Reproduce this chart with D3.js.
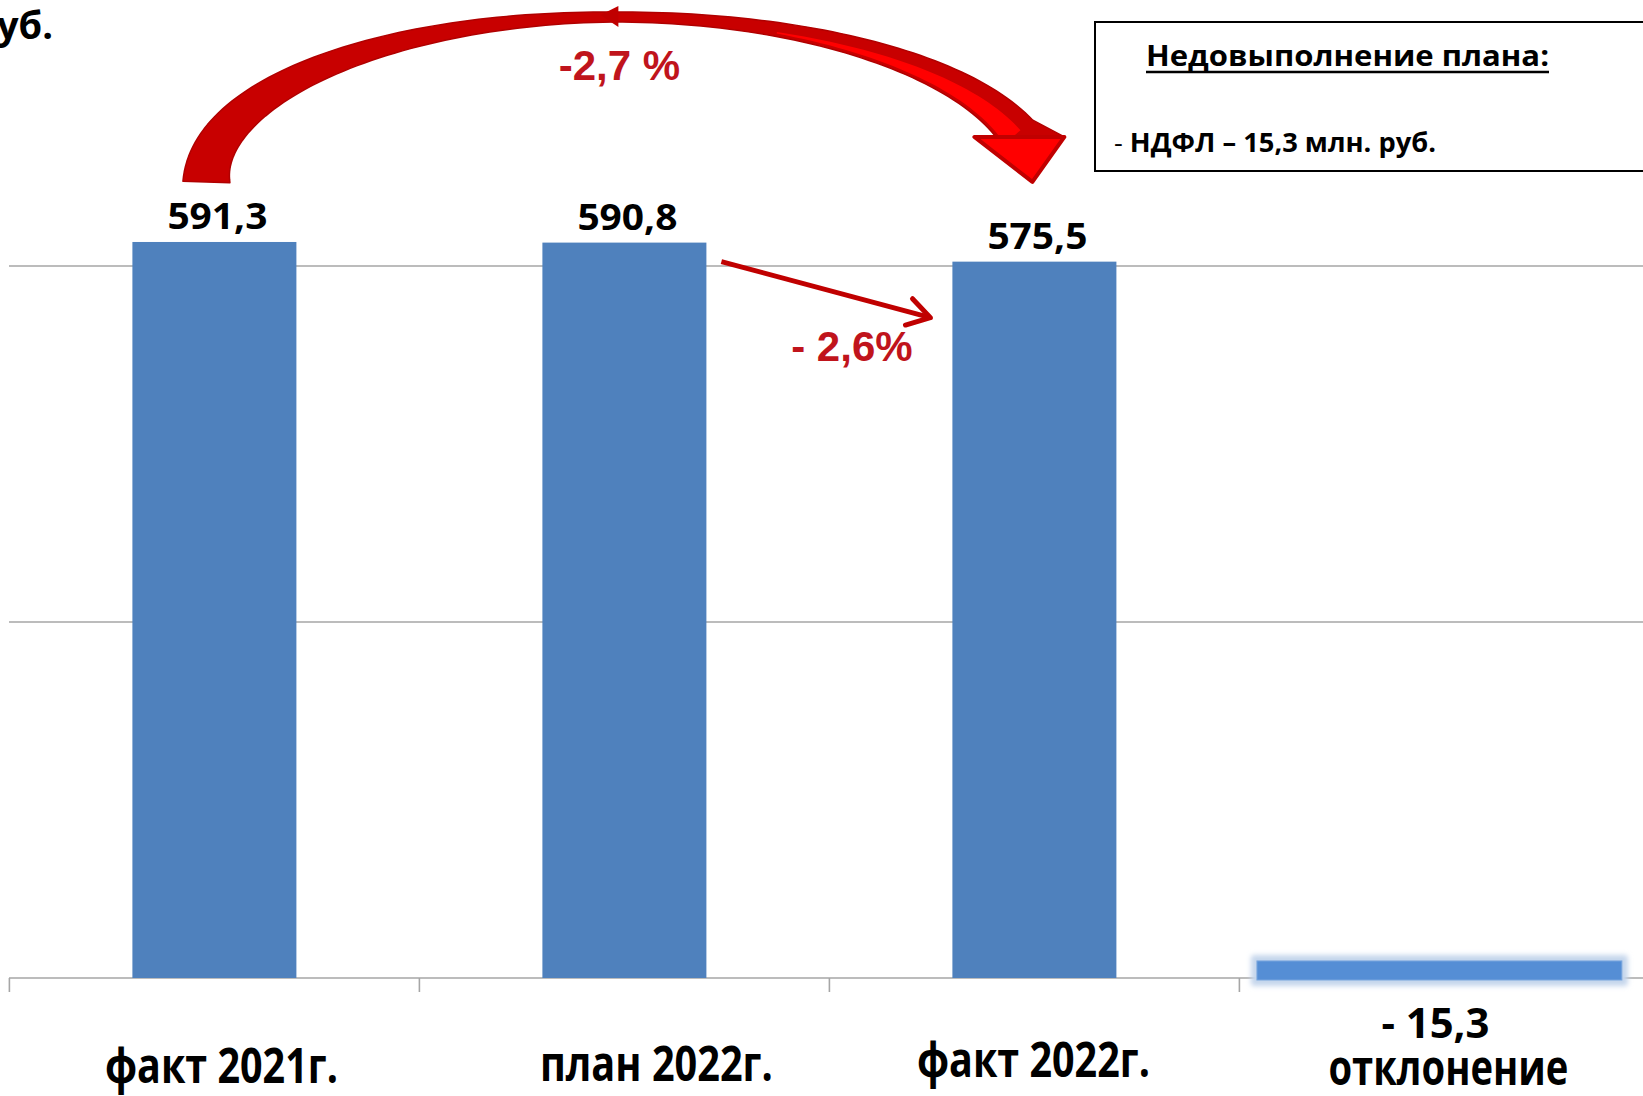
<!DOCTYPE html>
<html>
<head>
<meta charset="utf-8">
<script src="https://cdn.jsdelivr.net/npm/d3@7/dist/d3.min.js"></script>
<style>
  body { margin: 0; background: #fff; }
  svg { display: block; }
</style>
</head>
<body>
<div id="chart"></div>
<script>
// Data
const categories = ['факт 2021г.', 'план 2022г.', 'факт 2022г.', 'отклонение'];
const values = [591.3, 590.8, 575.5, -15.3];
const valueLabels = ['591,3', '590,8', '575,5', '- 15,3'];
const gridValues = [0, 286, 572];
const changeLabels = ['-2,7 %', '- 2,6%'];
const noteTitle = 'Недовыполнение плана:';
const noteLine = 'НДФЛ – 15,3 млн. руб.';
const unitLabel = 'млн. руб.';

const width = 1643;
const height = 1096;
const calibri = "'Open Sans', 'Noto Sans', sans-serif";
const arial = "'Liberation Sans', Arial, sans-serif";
const red = '#c00000';

const svg = d3.select('#chart')
    .append('svg')
    .attr('width', width)
    .attr('height', height);

const defs = svg.append('defs');
defs.append('filter')
    .attr('id', 'glow')
    .attr('x', '-10%').attr('y', '-100%')
    .attr('width', '120%').attr('height', '300%')
    .append('feGaussianBlur')
    .attr('stdDeviation', 2.5);

// Scales
const x = d3.scaleBand()
    .domain(categories)
    .range([9.4, 1649.4])
    .paddingInner(0.6)
    .paddingOuter(0.3);

const y = d3.scaleLinear()
    .domain([0, 572])
    .range([978, 266]);

const bw = x.bandwidth();
const step = x.step();

// Gridlines (first one is the category axis line)
svg.selectAll('.grid')
    .data(gridValues)
    .enter().append('line')
    .attr('x1', 9)
    .attr('x2', width)
    .attr('y1', d => y(d))
    .attr('y2', d => y(d))
    .attr('stroke', '#a6a6a6')
    .attr('stroke-width', 1.6);

// Category ticks at band boundaries
svg.selectAll('.tick')
    .data(categories)
    .enter().append('line')
    .attr('x1', d => x(d) - step * 0.3)
    .attr('x2', d => x(d) - step * 0.3)
    .attr('y1', y(0))
    .attr('y2', y(0) + 14)
    .attr('stroke', '#a6a6a6')
    .attr('stroke-width', 1.6);

// Main bars
const mainCats = categories.slice(0, 3);
svg.selectAll('.bar')
    .data(mainCats)
    .enter().append('rect')
    .attr('x', d => x(d))
    .attr('y', (d, i) => y(values[i]))
    .attr('width', bw)
    .attr('height', (d, i) => y(0) - y(values[i]))
    .attr('fill', '#4f81bd');

// Deviation bar (drawn upward from the axis, glowing)
const devCat = categories[3];
const devW = step * 0.89;
const devX = x(devCat) + bw / 2 - 5 - devW / 2;
const devTop = y(Math.abs(values[3])) + 2;
const devH = y(0) - y(Math.abs(values[3]));
svg.append('rect')
    .attr('x', devX - 6)
    .attr('y', devTop - 6)
    .attr('width', devW + 12)
    .attr('height', devH + 12)
    .attr('rx', 3)
    .attr('fill', '#c5d6ec')
    .attr('filter', 'url(#glow)');
svg.append('rect')
    .attr('x', devX)
    .attr('y', devTop)
    .attr('width', devW)
    .attr('height', devH)
    .attr('fill', '#558ed5')
    .attr('stroke', '#7aa7de')
    .attr('stroke-width', 1);

// Value labels above bars
svg.selectAll('.val')
    .data(mainCats)
    .enter().append('text')
    .attr('x', d => x(d) + bw / 2 + 3)
    .attr('y', (d, i) => y(values[i]) - 13)
    .attr('text-anchor', 'middle')
    .attr('font-family', calibri)
    .attr('font-size', '36px')
    .attr('font-weight', 'bold')
    .attr('fill', '#000')
    .attr('textLength', 100)
    .attr('lengthAdjust', 'spacingAndGlyphs')
    .text((d, i) => valueLabels[i]);

// Category labels
const labelShift = [7, 32, -1];
const labelBase = [1083, 1081, 1077];
svg.selectAll('.cat')
    .data(mainCats)
    .enter().append('text')
    .attr('x', (d, i) => x(d) + bw / 2 + labelShift[i])
    .attr('y', (d, i) => labelBase[i])
    .attr('text-anchor', 'middle')
    .attr('font-family', calibri)
    .attr('font-size', '49px')
    .attr('font-weight', 'bold')
    .attr('fill', '#000')
    .attr('textLength', 233)
    .attr('lengthAdjust', 'spacingAndGlyphs')
    .text(d => d);

const devCenter = x(devCat) + bw / 2;
svg.append('text')
    .attr('x', devCenter - 9)
    .attr('y', 1038)
    .attr('text-anchor', 'middle')
    .attr('font-family', calibri)
    .attr('font-size', '42px')
    .attr('font-weight', 'bold')
    .attr('textLength', 108)
    .attr('lengthAdjust', 'spacingAndGlyphs')
    .text(valueLabels[3]);
svg.append('text')
    .attr('x', devCenter + 4)
    .attr('y', 1085)
    .attr('text-anchor', 'middle')
    .attr('font-family', calibri)
    .attr('font-size', '48px')
    .attr('font-weight', 'bold')
    .attr('textLength', 240)
    .attr('lengthAdjust', 'spacingAndGlyphs')
    .text(devCat);

// Unit label, clipped at the left edge
svg.append('text')
    .attr('x', 53)
    .attr('y', 39)
    .attr('text-anchor', 'end')
    .attr('font-family', calibri)
    .attr('font-size', '38px')
    .attr('font-weight', 'bold')
    .text(unitLabel);

// Note box
svg.append('rect')
    .attr('x', 1095)
    .attr('y', 22)
    .attr('width', 600)
    .attr('height', 149)
    .attr('fill', '#fff')
    .attr('stroke', '#000')
    .attr('stroke-width', 2);
svg.append('text')
    .attr('x', 1146)
    .attr('y', 66)
    .attr('font-family', calibri)
    .attr('font-size', '28px')
    .attr('font-weight', 'bold')
    .attr('textLength', 403)
    .attr('lengthAdjust', 'spacingAndGlyphs')
    .text(noteTitle);
svg.append('line')
    .attr('x1', 1146).attr('x2', 1549)
    .attr('y1', 72).attr('y2', 72)
    .attr('stroke', '#000')
    .attr('stroke-width', 2.5);
const note = svg.append('text')
    .attr('x', 1114)
    .attr('y', 152)
    .attr('font-family', calibri)
    .attr('font-size', '26px')
    .attr('textLength', 322)
    .attr('lengthAdjust', 'spacingAndGlyphs');
note.append('tspan').attr('font-weight', 'normal').text('- ');
note.append('tspan').attr('font-weight', 'bold').text(noteLine);

// Big curved arrow from fact 2021 to fact 2022
const startX = x(categories[0]) + bw / 2 - 8;
const endX = x(categories[2]) + bw / 2 - 17;
const baseY = y(values[0]) - 60;
const rxL = 410, rxR = 420, ry = 165;
const cx = startX + rxL;
const thetaEnd = Math.acos((endX - cx) / rxR);

function centerAt(t) {
    const rx = t > Math.PI / 2 ? rxL : rxR;
    return [cx + rx * Math.cos(t), baseY - ry * Math.sin(t)];
}
function widthAt(t) {
    if (t > Math.PI / 2) {
        const u = (t - Math.PI / 2) / (Math.PI / 2);
        return 10 + 37 * Math.pow(u, 1.4);
    }
    const u = (Math.PI / 2 - t) / (Math.PI / 2 - thetaEnd);
    return 10 + 30 * Math.pow(u, 1.7);
}
const N = 120;
const ts = d3.range(N + 1).map(i => Math.PI - (Math.PI - thetaEnd) * i / N);
const frames = ts.map((t, i) => {
    const c = centerAt(t);
    const a = centerAt(ts[Math.max(0, i - 1)]);
    const b = centerAt(ts[Math.min(N, i + 1)]);
    let tx = b[0] - a[0], ty = b[1] - a[1];
    const len = Math.hypot(tx, ty) || 1;
    tx /= len; ty /= len;
    let nx = ty, ny = -tx; // candidate normal
    if ((c[0] - cx) * nx + (c[1] - baseY) * ny < 0) { nx = -nx; ny = -ny; }
    return { t, c, nx, ny, w: widthAt(t) };
});
const off = (f, o) => [f.c[0] + f.nx * o, f.c[1] + f.ny * o];

const outer = frames.map(f => off(f, f.w / 2));
const inner = frames.map(f => off(f, -f.w / 2)).reverse();
const endC = frames[N].c;
const headBaseY = endC[1] + 4;
const head = [
    [endX + 47, headBaseY],
    [endX + 15, headBaseY + 45],
    [endX - 43, headBaseY]
];
const line = d3.line();

svg.append('path')
    .attr('d', line(outer.concat(head, inner)) + 'Z')
    .attr('fill', '#c80000')
    .attr('stroke', '#b00000')
    .attr('stroke-width', 1.5)
    .attr('stroke-linejoin', 'round');

// bright inner strip on the right half
const stripFrames = frames.filter(f => f.t < 1.2);
const stripA = stripFrames.map(f => off(f, -f.w / 2 + 3));
const stripB = stripFrames.map(f => off(f, -f.w / 2 + 3 + Math.max(0, f.w - 12) * 0.75)).reverse();
svg.append('path')
    .attr('d', line(stripA.concat(stripB)) + 'Z')
    .attr('fill', '#ff0000');

svg.append('path')
    .attr('d', line(head) + 'Z')
    .attr('fill', '#ff0000')
    .attr('stroke', red)
    .attr('stroke-width', 4)
    .attr('stroke-linejoin', 'round');

// small arrowhead at the top pointing left
svg.append('path')
    .attr('d', line([[cx - 16, baseY - 167], [cx + 2, baseY - 176], [cx + 2, baseY - 155]]) + 'Z')
    .attr('fill', red);

svg.append('text')
    .attr('x', cx + 3)
    .attr('y', 80)
    .attr('text-anchor', 'middle')
    .attr('font-family', arial)
    .attr('font-size', '42px')
    .attr('font-weight', 'bold')
    .attr('fill', '#c0141c')
    .text(changeLabels[0]);

// Straight arrow from plan 2022 to fact 2022
const a0 = [x(categories[1]) + bw + 15, y(values[1]) + 19];
const a1 = [x(categories[2]) - 22, y(values[2]) + 56];
svg.append('line')
    .attr('x1', a0[0]).attr('y1', a0[1])
    .attr('x2', a1[0]).attr('y2', a1[1])
    .attr('stroke', red)
    .attr('stroke-width', 5);
const ang = Math.atan2(a1[1] - a0[1], a1[0] - a0[0]);
const arm = 26, spread = 0.55;
const chevron = [
    [a1[0] - arm * Math.cos(ang - spread), a1[1] - arm * Math.sin(ang - spread)],
    a1,
    [a1[0] - arm * Math.cos(ang + spread), a1[1] - arm * Math.sin(ang + spread)]
];
svg.append('path')
    .attr('d', line(chevron))
    .attr('fill', 'none')
    .attr('stroke', red)
    .attr('stroke-width', 5)
    .attr('stroke-linecap', 'round')
    .attr('stroke-linejoin', 'round');

svg.append('text')
    .attr('x', (a0[0] + a1[0]) / 2 + 26)
    .attr('y', 361)
    .attr('text-anchor', 'middle')
    .attr('font-family', arial)
    .attr('font-size', '42px')
    .attr('font-weight', 'bold')
    .attr('fill', '#c0141c')
    .text(changeLabels[1]);
</script>
</body>
</html>
